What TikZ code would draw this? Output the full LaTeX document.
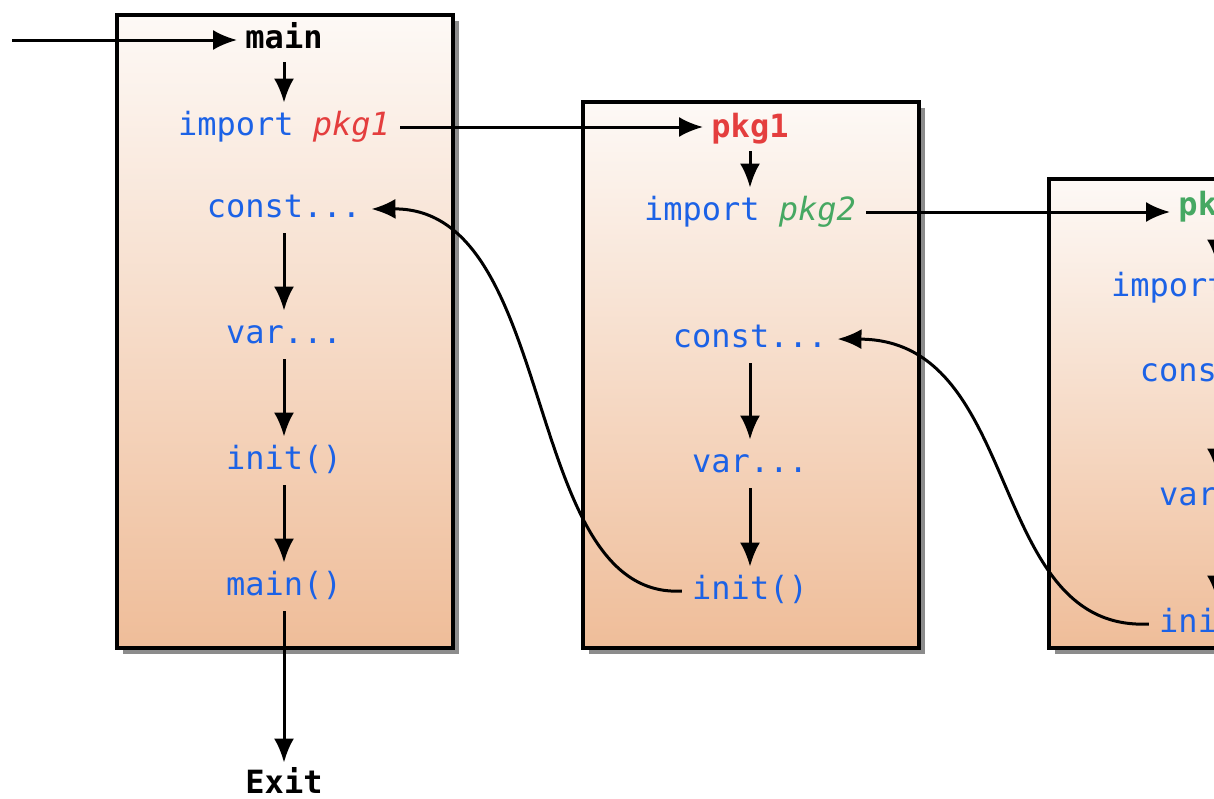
\documentclass[tikz,border=0pt]{standalone}
\usepackage{fontspec}
\setmonofont{DejaVu Sans Mono}
\usetikzlibrary{arrows.meta,shadows}

\definecolor{codeblue}{RGB}{28,98,230}
\definecolor{pkgred}{RGB}{228,62,62}
\definecolor{pkggreen}{RGB}{70,168,98}
\definecolor{boxtop}{RGB}{253,249,246}
\definecolor{boxbottom}{RGB}{239,189,153}

\tikzset{
	pkgbox/.style={draw=black, line width=1.8pt, top color=boxtop, bottom color=boxbottom,
		drop shadow={shadow xshift=3pt, shadow yshift=-3pt, fill=black, opacity=0.45}},
	code/.style={font=\ttfamily\fontsize{16}{18}\selectfont, text=codeblue, inner sep=5pt,
		text height=11pt, text depth=3pt},
	title/.style={code, font=\ttfamily\bfseries\fontsize{16}{18}\selectfont, inner sep=4pt},
	flow/.style={line width=1.5pt, -{Latex[length=12pt,width=10pt]}}
}

\begin{document}
\begin{tikzpicture}[x=0.5pt, y=-0.5pt]
	\useasboundingbox (0,0) rectangle (1214,798);
	\clip (0,0) rectangle (1214,798);

	% package boxes
	\draw[pkgbox] (117,15) rectangle (453,648);
	\draw[pkgbox] (583,102) rectangle (919,648);
	\draw[pkgbox] (1049,179) rectangle (1385,648);

	% main package
	\coordinate (start) at (12,40);
	\node[title, text=black] (main) at (284,40) {main};
	\node[code] (imp1) at (284,127) {import {\color{pkgred}\itshape pkg1}};
	\node[code] (const1) at (284,209) {const...};
	\node[code] (var1) at (284,335) {var...};
	\node[code] (init1) at (284,461) {init()};
	\node[code] (mainfn) at (284,587) {main()};
	\node[title, text=black] (exit) at (284,785) {Exit};

	% pkg1
	\node[title, text=pkgred] (pkg1) at (750,129) {pkg1};
	\node[code] (imp2) at (750,212) {import {\color{pkggreen}\itshape pkg2}};
	\node[code] (const2) at (750,339) {const...};
	\node[code] (var2) at (750,464) {var...};
	\node[code] (init2) at (750,591) {init()};

	% pkg2
	\node[title, text=pkggreen] (pkg2) at (1217,207) {pkg2};
	\node[code] (imp3) at (1217,288) {import pkg3};
	\node[code] (const3) at (1217,373) {const...};
	\node[code] (var3) at (1217,497) {var...};
	\node[code] (init3) at (1217,624) {init()};

	\draw[flow] (start) -- (main);
	\foreach \a/\b in {main/imp1, const1/var1, var1/init1, init1/mainfn, mainfn/exit,
		pkg1/imp2, const2/var2, var2/init2, pkg2/imp3, const3/var3, var3/init3}
		\draw[flow] (\a) -- (\a |- \b.north);
	\draw[flow] (imp1.east) -- (imp1.east -| pkg1.west);
	\draw[flow] (imp2.east) -- (imp2.east -| pkg2.west);

	% back to the caller
	\draw[flow] (init2.west) .. controls (520,600) and (560,208) .. (const1.east);
	\draw[flow] (init3.west) .. controls (985,632) and (1025,340) .. (const2.east);
\end{tikzpicture}
\end{document}
